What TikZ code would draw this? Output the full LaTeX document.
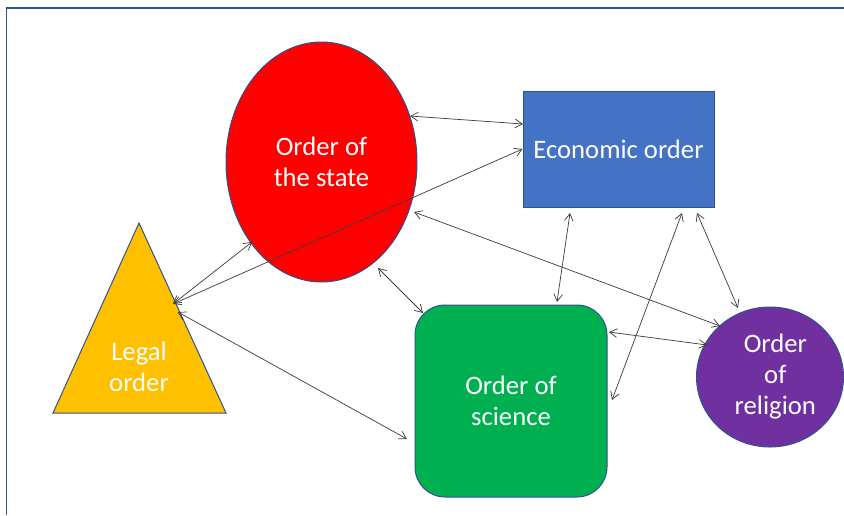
\documentclass[tikz,border=0pt]{standalone}
\usepackage{fontspec}
\setmainfont{Carlito}
\usetikzlibrary{arrows.meta,shapes.geometric}
\definecolor{outl}{HTML}{2F528F}
\definecolor{framec}{HTML}{2F5597}
\definecolor{redf}{HTML}{FF0000}
\definecolor{bluef}{HTML}{4472C4}
\definecolor{yellowf}{HTML}{FFC000}
\definecolor{greenf}{HTML}{00B050}
\definecolor{purplef}{HTML}{7030A0}
\definecolor{linkc}{HTML}{404040}
\tikzset{
  shapebase/.style={draw=outl, line width=0.75pt, inner sep=0pt, text=white,
    align=center, font=\fontsize{20}{23.25}\selectfont},
  ellipsebox/.style={shapebase, ellipse},
  rectbox/.style={shapebase, rectangle},
  textonly/.style={inner sep=0pt, text=white, align=center, font=\fontsize{20}{23.25}\selectfont},
  link/.style={draw=linkc, line width=0.55pt,
    {Straight Barb[length=5.5pt,width=6.5pt]}-{Straight Barb[length=5.5pt,width=6.5pt]}},
  framestyle/.style={draw=framec, line width=0.8pt}
}
\begin{document}
\begin{tikzpicture}[x=0.75pt,y=-0.75pt]
\useasboundingbox (0,0) rectangle (844,515);
% frame
\draw[framestyle] (844,8) -- (6.5,8) -- (6.5,515);
% shapes
\node[ellipsebox, fill=redf, minimum width=143.25pt, minimum height=180pt] (red) at (321.5,162) {Order of\\the state};
\node[rectbox, fill=bluef, minimum width=143.25pt, minimum height=87pt] (blue) at (618.5,149) {Economic order};
\node[rectbox, fill=greenf, rounded corners=22.5pt, minimum width=144pt, minimum height=144pt] (green) at (511,401) {Order of\\science};
\node[ellipsebox, fill=purplef, minimum width=110.25pt, minimum height=105pt] (purple) at (770,377) {\hspace*{8pt}Order\\\hspace*{8pt}of\\\hspace*{8pt}religion};
% legal order triangle
\coordinate (tA) at (139,223);
\coordinate (tL) at (53,413);
\coordinate (tR) at (226,413);
\draw[draw=outl, line width=0.75pt, fill=yellowf] (tA) -- (tR) -- (tL) -- cycle;
\node[textonly] (legal) at (139,367) {Legal\\order};
\path (tA) -- (tR) coordinate[pos=0.426] (legalP1) coordinate[pos=0.468] (legalP2);
\coordinate (legalE1) at ([shift={(-3,0)}]legalP1);
\coordinate (legalE2) at ([shift={(-2,0)}]legalP2);
% connectors
\draw[link] ([shift={(88.5,-46)}]red.center) -- ([shift={(-95.5,-25)}]blue.center);
\draw[link] (legalE1) -- (blue.west);
\draw[link] (legalE1) -- ([shift={(-69.5,80)}]red.center);
\draw[link] (legalE2) -- ([shift={(-104,38)}]green.center);
\draw[link] ([shift={(56.5,106)}]red.center) -- ([shift={(-88,-88)}]green.center);
\draw[link] ([shift={(92.5,50)}]red.center) -- ([shift={(-50,-51)}]purple.center);
\draw[link] ([shift={(-48.5,64)}]blue.center) -- ([shift={(46,-99)}]green.center);
\draw[link] ([shift={(63.5,64)}]blue.center) -- ([shift={(101,-1)}]green.center);
\draw[link] ([shift={(78.5,64)}]blue.center) -- ([shift={(-32,-69)}]purple.center);
\draw[link] ([shift={(98,-69)}]green.center) -- ([shift={(-63,-32)}]purple.center);
\end{tikzpicture}
\end{document}
